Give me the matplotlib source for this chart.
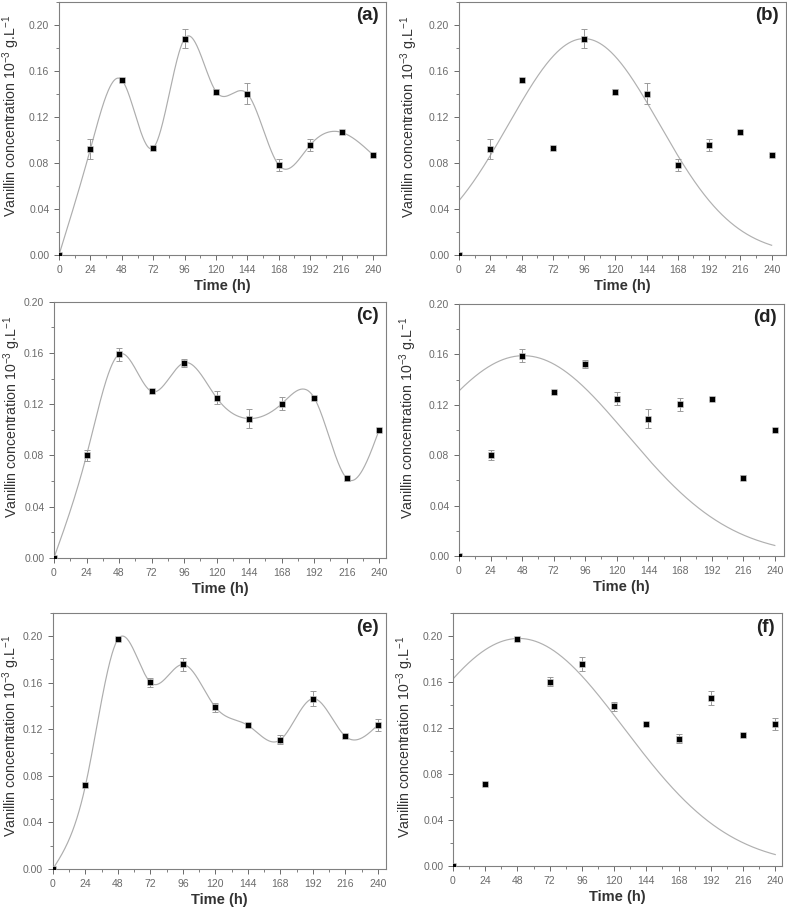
import numpy as np
import matplotlib
matplotlib.use('Agg')
import matplotlib.pyplot as plt
from matplotlib.ticker import MultipleLocator

plt.rcParams['font.family'] = ['Liberation Sans', 'DejaVu Sans']
plt.rcParams['mathtext.default'] = 'regular'

# sampling times (h)
time = [0, 24, 48, 72, 96, 120, 144, 168, 192, 216, 240]

# vanillin concentration, three conditions, with error bars
conc_1 = [0.000, 0.092, 0.152, 0.093, 0.188, 0.142, 0.140, 0.078, 0.0955, 0.1065, 0.087]
err_1 = [0.000, 0.009, 0.002, 0.001, 0.008, 0.002, 0.009, 0.0053, 0.0053, 0.001, 0.001]

conc_2 = [0.000, 0.080, 0.159, 0.130, 0.1524, 0.125, 0.1088, 0.1203, 0.125, 0.0621, 0.1002]
err_2 = [0.000, 0.004, 0.005, 0.001, 0.003, 0.005, 0.0075, 0.005, 0.001, 0.002, 0.001]

conc_3 = [0.000, 0.0717, 0.1974, 0.1603, 0.1757, 0.139, 0.1234, 0.111, 0.1463, 0.114, 0.1237]
err_3 = [0.000, 0.001, 0.001, 0.004, 0.006, 0.004, 0.001, 0.004, 0.0064, 0.001, 0.005]

# gaussian fits: amplitude, centre, width
fit_1 = [0.188, 96, 57.7]
fit_2 = [0.159, 49, 78.7]
fit_3 = [0.198, 49, 78.3]


def natural_spline(x, y, xs):
    x = np.asarray(x, float)
    y = np.asarray(y, float)
    n = len(x)
    h = np.diff(x)
    A = np.zeros((n, n))
    b = np.zeros(n)
    A[0, 0] = 1
    A[-1, -1] = 1
    for i in range(1, n - 1):
        A[i, i - 1] = h[i - 1]
        A[i, i] = 2 * (h[i - 1] + h[i])
        A[i, i + 1] = h[i]
        b[i] = 6 * ((y[i + 1] - y[i]) / h[i] - (y[i] - y[i - 1]) / h[i - 1])
    M = np.linalg.solve(A, b)
    idx = np.clip(np.searchsorted(x, xs) - 1, 0, n - 2)
    x0, x1 = x[idx], x[idx + 1]
    hh = x1 - x0
    t0 = x1 - xs
    t1 = xs - x0
    return (M[idx] * t0**3 / (6 * hh) + M[idx + 1] * t1**3 / (6 * hh)
            + (y[idx] / hh - M[idx] * hh / 6) * t0
            + (y[idx + 1] / hh - M[idx + 1] * hh / 6) * t1)


def gauss(xs, p):
    a, xc, w = p
    return a * np.exp(-(xs - xc) ** 2 / (2 * w ** 2))


fig = plt.figure(figsize=(7.87, 9.07), dpi=100)

# label, axes rect, data, error, curve type, fit, ymax, xmax, ylabel (x, y)
panels = [
    ('(a)', [0.075, 0.719, 0.4155, 0.279], conc_1, err_1, 'spline', None, 0.22, 250, (-0.114, 0.55)),
    ('(b)', [0.5832, 0.719, 0.4155, 0.279], conc_1, err_1, 'gauss', fit_1, 0.22, 251, (-0.119, 0.545)),
    ('(c)', [0.0686, 0.385, 0.4219, 0.2822], conc_2, err_2, 'spline', None, 0.20, 245, (-0.094, 0.55)),
    ('(d)', [0.5832, 0.387, 0.413, 0.2778], conc_2, err_2, 'gauss', fit_2, 0.20, 247, (-0.123, 0.548)),
    ('(e)', [0.0673, 0.042, 0.4231, 0.2822], conc_3, err_3, 'spline', None, 0.22, 246, (-0.092, 0.52)),
    ('(f)', [0.5756, 0.045, 0.418, 0.279], conc_3, err_3, 'gauss', fit_3, 0.22, 245, (-0.112, 0.51)),
]

xs = np.linspace(0, 240, 600)
for label, pos, conc, err, kind, fit, ytop, xright, ylab in panels:
    ax = fig.add_axes(pos)
    if kind == 'spline':
        ax.plot(xs, natural_spline(time, conc, xs), color='#adadad', lw=0.85, zorder=1)
    else:
        ax.plot(xs, gauss(xs, fit), color='#b0b0b0', lw=0.85, zorder=1)
    ax.errorbar(time, conc, yerr=err, fmt='none', ecolor='#9a9a9a', elinewidth=0.7,
                capsize=2.5, capthick=0.7, zorder=2)
    ax.plot(time, conc, 's', color='black', ms=4.0, mec='#dddddd', mew=0.4, zorder=3)

    ax.set_xlim(0, xright)
    ax.set_ylim(0, ytop)
    ax.xaxis.set_major_locator(MultipleLocator(24))
    ax.xaxis.set_minor_locator(MultipleLocator(12))
    ax.yaxis.set_major_locator(MultipleLocator(0.04))
    ax.yaxis.set_minor_locator(MultipleLocator(0.02))
    ax.yaxis.set_major_formatter(matplotlib.ticker.FormatStrFormatter('%.2f'))
    ax.tick_params(which='both', direction='out', colors='#6a6a6a', labelsize=7.5,
                   labelcolor='#6a6a6a')
    ax.tick_params(which='major', length=3.5, width=0.7)
    ax.tick_params(which='minor', length=2, width=0.6)
    ax.tick_params(top=False, right=False)
    for s in ax.spines.values():
        s.set_color('#808080')
        s.set_linewidth(0.8)

    ax.set_xlabel('Time (h)', fontsize=10.5, fontweight='bold', color='#333333', labelpad=3)
    ax.set_ylabel('Vanillin concentration 10$^{-3}$ g.L$^{-1}$', fontsize=10.2,
                  color='#333333')
    ax.yaxis.set_label_coords(*ylab)
    ax.text(0.978, 0.945, label, transform=ax.transAxes, ha='right', va='center',
            fontsize=13.5, fontweight='bold', color='#222222')

fig.savefig('out.png', dpi=100)
